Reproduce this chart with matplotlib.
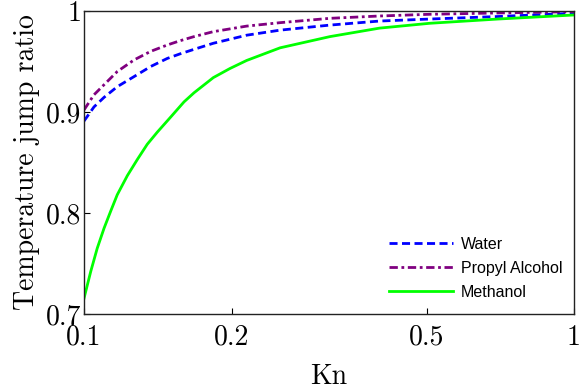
import matplotlib
matplotlib.use('Agg')
import matplotlib.pyplot as plt
from matplotlib.ticker import FixedLocator, FixedFormatter, NullLocator

# Values (Kn, temperature jump ratio)
kn_water = [0.1, 0.1048, 0.1099, 0.1169, 0.1265, 0.1368, 0.1479, 0.1570, 0.1677,
            0.1836, 0.2148, 0.2513, 0.3176, 0.401, 0.508, 0.70, 1.0]
water = [0.891, 0.905, 0.9145, 0.925, 0.935, 0.945, 0.953, 0.9575, 0.962,
         0.968, 0.976, 0.981, 0.986, 0.990, 0.992, 0.9945, 0.9977]

kn_propyl = [0.1, 0.1048, 0.1099, 0.1169, 0.1265, 0.1368, 0.1479, 0.1570, 0.1677,
             0.1836, 0.2148, 0.2513, 0.3176, 0.401, 0.508, 0.70, 1.0]
propyl = [0.902, 0.917, 0.927, 0.940, 0.9515, 0.960, 0.9663, 0.9705, 0.9746,
          0.9795, 0.985, 0.9884, 0.9927, 0.995, 0.9967, 0.998, 0.9993]

kn_methanol = [0.1, 0.1032, 0.1064, 0.1099, 0.1134, 0.1169, 0.1226, 0.1285, 0.1346,
               0.1411, 0.1503, 0.160, 0.1677, 0.1836, 0.1985, 0.2148, 0.2513,
               0.3176, 0.401, 0.508, 0.70, 1.0]
methanol = [0.7155, 0.742, 0.765, 0.785, 0.802, 0.818, 0.837, 0.853, 0.868,
            0.880, 0.895, 0.910, 0.919, 0.934, 0.943, 0.951, 0.9635,
            0.9746, 0.983, 0.9878, 0.992, 0.996]

x_ticks = [0.1, 0.2, 0.5, 1]
x_tick_labels = ['0.1', '0.2', '0.5', '1']
y_ticks = [0.7, 0.8, 0.9, 1.0]
y_tick_labels = ['0.7', '0.8', '0.9', '1']

serif = 'cmr10'

fig = plt.figure(figsize=(5.81, 3.91), dpi=100)
ax = fig.add_axes([0.1446, 0.197, 0.8434, 0.775])

ax.plot(kn_water, water, color='#0000FF', lw=2, dashes=[2.9, 1.6], label='Water')
ax.plot(kn_propyl, propyl, color='#800080', lw=2, dashes=[3.0, 1.3, 1.0, 1.3], label='Propyl Alcohol')
ax.plot(kn_methanol, methanol, color='#00FF00', lw=2, label='Methanol')

ax.set_xscale('log')
ax.set_xlim(0.1, 1)
ax.set_ylim(0.7, 1.0)

ax.xaxis.set_major_locator(FixedLocator(x_ticks))
ax.xaxis.set_major_formatter(FixedFormatter(x_tick_labels))
ax.xaxis.set_minor_locator(NullLocator())
ax.yaxis.set_major_locator(FixedLocator(y_ticks))
ax.yaxis.set_major_formatter(FixedFormatter(y_tick_labels))

ax.tick_params(direction='in', length=4.5, width=0.8, labelsize=20)
ax.tick_params(axis='x', pad=7.5)
ax.tick_params(axis='y', pad=2)
for lbl in ax.get_xticklabels() + ax.get_yticklabels():
    lbl.set_family(serif)

for sp in ax.spines.values():
    sp.set_linewidth(1.0)
    sp.set_color('#222222')

ax.set_xlabel('Kn', family=serif, fontsize=20, labelpad=9)
ax.set_ylabel('Temperature jump ratio', family=serif, fontsize=20, labelpad=4)

ax.legend(loc='lower right', frameon=False, prop={'family': 'Liberation Sans', 'size': 11.5},
          handlelength=4.0, handletextpad=0.5, labelspacing=0.55,
          bbox_to_anchor=(1.005, 0.0))

fig.savefig('out.png', dpi=100)
